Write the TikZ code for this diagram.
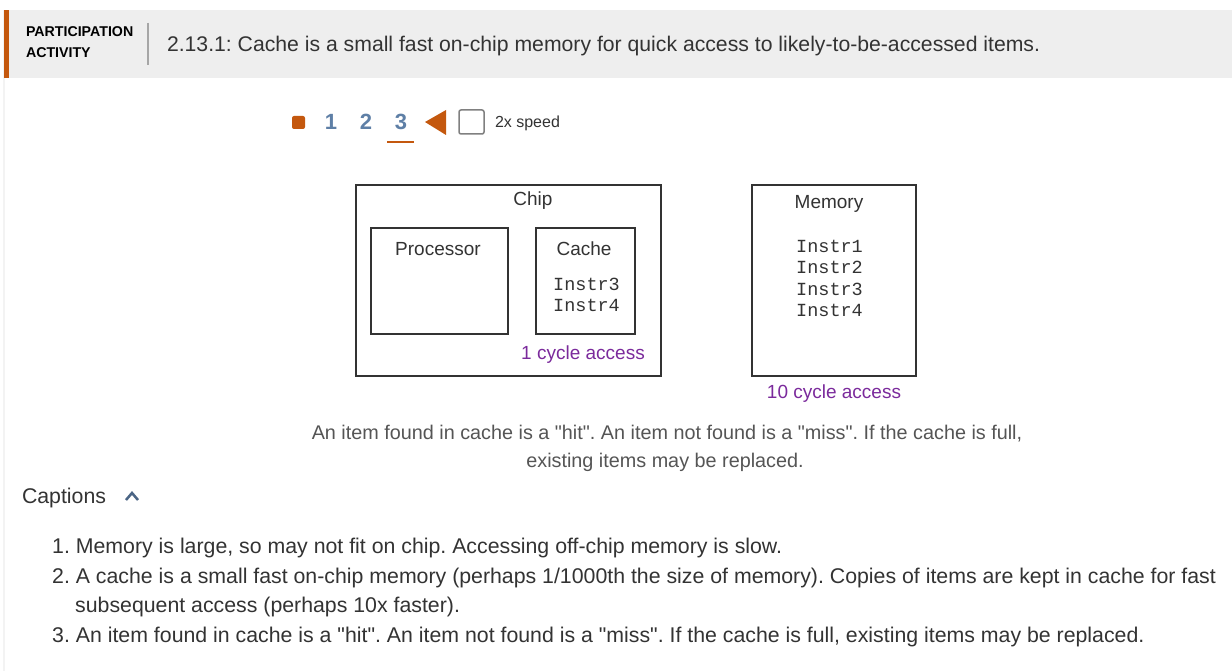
\documentclass[tikz,border=0pt]{standalone}
\usepackage{fontspec}
\setmainfont{Liberation Sans}[Ligatures=TeXOff]
\setmonofont{Liberation Mono}
\definecolor{hdrgray}{HTML}{EEEEEE}
\definecolor{orng}{HTML}{C4580E}
\definecolor{slate}{HTML}{5E7FA6}
\definecolor{purp}{HTML}{7B2A9C}
\definecolor{txt}{HTML}{333333}
\definecolor{cap}{HTML}{555555}
\definecolor{boxc}{HTML}{333333}
\newcommand{\fs}[1]{\fontsize{#1}{#1}\selectfont}
\frenchspacing
\begin{document}
\begin{tikzpicture}[x=1pt,y=-1pt,
  txtn/.style={inner sep=0pt, outer sep=0pt, anchor=base west, text=txt},
  ctr/.style={inner sep=0pt, outer sep=0pt, anchor=base, text=txt},
  bx/.style={draw=boxc, line width=2pt, fill=white},
  ins/.style={inner sep=0pt, anchor=base west, text=txt, font=\ttfamily\fs{18.5}},
  acc/.style={inner sep=0pt, anchor=base, text=purp, font=\fs{19}},
  lst/.style={inner sep=0pt, anchor=base west, text=txt, font=\fs{21.3}},
  num/.style={inner sep=0pt, anchor=base, text=slate, font=\bfseries\fs{22}}]
\useasboundingbox (0,0) rectangle (1232,671);
\fill[white] (0,0) rectangle (1232,671);
% left border
\fill[hdrgray!70] (3,10) rectangle (5,671);
% header
\fill[hdrgray] (4,10) rectangle (1232,78);
\fill[orng] (4,10) rectangle (9,78);
\draw[gray!70, line width=1.5pt] (148,23) -- (148,65);
\node[txtn, font=\bfseries\fs{14.2}, text=black] (pa) at (26,37) {PARTICIPATION};
\node[txtn, font=\bfseries\fs{14.2}, text=black] (ac) at (26,58) {ACTIVITY};
\node[txtn, font=\fs{21.2}] (title) at (167,51.5) {2.13.1: Cache is a small fast on-chip memory for quick access to likely-to-be-accessed items.};
% controls
\fill[orng, rounded corners=2pt] (292,116) rectangle (305,129);
\node[num] (n1) at (331,130) {1};
\node[num] (n2) at (366,130) {2};
\node[num] (n3) at (401,130) {3};
\draw[orng, line width=2pt] (387,142) -- (414,142);
\fill[orng] (425,122) -- (446,110) -- (446,135) -- cycle;
\draw[gray, line width=1.5pt, rounded corners=2pt] (459,110) rectangle (484,134);
\node[txtn, font=\fs{16}] (sp) at (495,128) {2x speed};
% chip
\draw[bx] (356,185) rectangle (661,376);
\node[ctr, font=\fs{19}] (chip) at (533,206) {Chip};
\draw[bx] (371,228) rectangle (508,334);
\node[ctr, font=\fs{19}] (proc) at (438,256) {Processor};
\draw[bx] (536,228) rectangle (635,334);
\node[ctr, font=\fs{19}] (cache) at (584,256) {Cache};
\node[ins] (c3) at (553,290.5) {Instr3};
\node[ins] (c4) at (553,312) {Instr4};
\node[acc] (a1) at (583,359) {1 cycle access};
% memory
\draw[bx] (752,185) rectangle (916,376);
\node[ctr, font=\fs{19}] (mem) at (829,209) {Memory};
\node[ins] (m1) at (796,252.5) {Instr1};
\node[ins] (m2) at (796,273.5) {Instr2};
\node[ins] (m3) at (796,295.5) {Instr3};
\node[ins] (m4) at (796,316.5) {Instr4};
\node[acc] (a10) at (834,398) {10 cycle access};
% caption
\node[ctr, font=\fs{19.8}, text=cap] (cp1) at (667,439) {An item found in cache is a "hit". An item not found is a "miss". If the cache is full,};
\node[ctr, font=\fs{19.8}, text=cap] (cp2) at (665,467) {existing items may be replaced.};
% captions list
\node[txtn, font=\fs{21.3}] (capt) at (22,503.5) {Captions};
\draw[slate!80!black, line width=2.5pt] (126,500) -- (132,493) -- (138,500);
\node[lst] (l1) at (52,553.5) {1. Memory is large, so may not fit on chip. Accessing off-chip memory is slow.};
\node[lst] (l2) at (52,583.5) {2. A cache is a small fast on-chip memory (perhaps 1/1000th the size of memory). Copies of items are kept in cache for fast};
\node[lst] (l2b) at (75,612.5) {subsequent access (perhaps 10x faster).};
\node[lst] (l3) at (52,642.5) {3. An item found in cache is a "hit". An item not found is a "miss". If the cache is full, existing items may be replaced.};
\end{tikzpicture}
\end{document}
